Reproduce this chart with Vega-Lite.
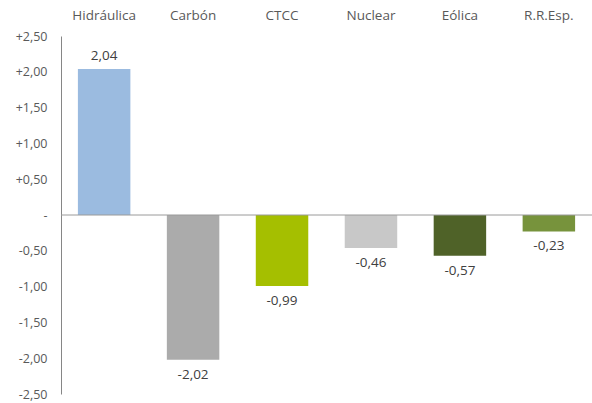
{
  "$schema": "https://vega.github.io/schema/vega-lite/v6.json",
  "autosize": "none",
  "width": 531,
  "height": 358,
  "padding": {"left": 61, "top": 36, "right": 0, "bottom": 9},
  "background": "white",
  "config": {"view": {"stroke": null}, "font": "Open Sans", "axisY": {"labelOverlap": false}},
  "data": {"values": [
    {"cat": "Hidráulica", "v": 2.04, "c": "#9BBBE0"},
    {"cat": "Carbón", "v": -2.02, "c": "#ABABAB"},
    {"cat": "CTCC", "v": -0.99, "c": "#A5BF00"},
    {"cat": "Nuclear", "v": -0.46, "c": "#C8C8C8"},
    {"cat": "Eólica", "v": -0.57, "c": "#4F6228"},
    {"cat": "R.R.Esp.", "v": -0.23, "c": "#77933C"}
  ]},
  "transform": [{"calculate": "replace(replace(format(datum.v, '.2f'), '.', ','), '\u2212', '-')", "as": "lab"}],
  "encoding": {
    "x": {"field": "cat", "type": "nominal", "sort": null,
      "scale": {"paddingInner": 0.41, "paddingOuter": 0.19},
      "axis": {"orient": "top", "title": null, "domain": false, "ticks": false, "labelAngle": 0, "labelPadding": 14, "labelFontSize": 13.5, "labelColor": "#595959"}},
    "y": {"field": "v", "type": "quantitative",
      "scale": {"domain": [-2.5, 2.5], "nice": false},
      "axis": {"title": null, "values": [-2.5, -2, -1.5, -1, -0.5, 0, 0.5, 1, 1.5, 2, 2.5], "labelOverlap": false, "labelFlush": false, "grid": false, "ticks": false, "domainColor": "#868686", "labelFontSize": 12.5, "labelColor": "#595959", "labelPadding": 14,
        "labelExpr": "datum.value > 0 ? '+' + replace(format(datum.value, '.2f'), '.', ',') : (datum.value == 0 ? '-' : replace(replace(format(datum.value, '.2f'), '.', ','), '\u2212', '-'))"}}
  },
  "layer": [
    {
      "mark": {"type": "bar"},
      "encoding": {
        "color": {"field": "c", "type": "nominal", "scale": null}
      }
    },
    {
      "mark": {"type": "rule", "color": "#9A9A9A", "strokeWidth": 1},
      "data": {"values": [{"z": 0}]},
      "encoding": {"y": {"field": "z", "type": "quantitative"}, "x": {"value": 0}, "x2": {"value": 531}}
    },
    {
      "transform": [{"filter": "datum.v > 0"}],
      "mark": {"type": "text", "fontSize": 13.5, "color": "#404040", "baseline": "middle", "dy": -13},
      "encoding": {
        "text": {"field": "lab"}
      }
    },
    {
      "transform": [{"filter": "datum.v <= 0"}],
      "mark": {"type": "text", "fontSize": 13.5, "color": "#404040", "baseline": "middle", "dy": 15},
      "encoding": {
        "text": {"field": "lab"}
      }
    }
  ]
}
